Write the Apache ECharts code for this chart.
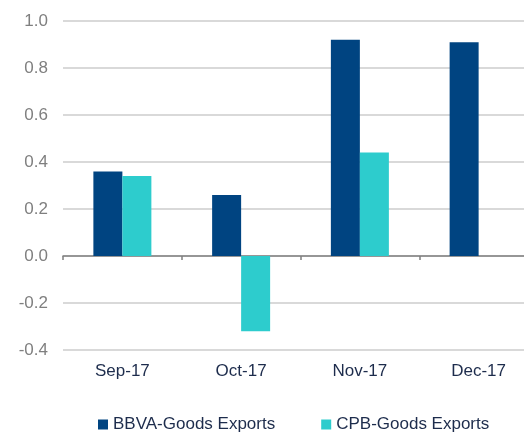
<!DOCTYPE html>
<html>
<head>
<meta charset="utf-8">
<script src="https://cdn.jsdelivr.net/npm/echarts@6/dist/echarts.min.js"></script>
<style>
  html, body { margin: 0; padding: 0; background: #fff; }
  #chart { width: 524px; height: 433px; }
</style>
</head>
<body>
<div id="chart"></div>
<script>
// categories and values
const months = ['Sep-17', 'Oct-17', 'Nov-17', 'Dec-17']
const bbvaExports = [0.36, 0.26, 0.92, 0.91]
const cpbExports = [0.34, -0.32, 0.44, null]

const chart = echarts.init(document.getElementById('chart'))

const option = {
  animation: false,
  textStyle: { fontFamily: 'Liberation Sans, Arial, sans-serif' },
  grid: {
    left: 63,
    top: 21,
    width: 475,
    height: 329,
    outerBoundsMode: 'none'
  },
  legend: {
    left: 93,
    top: 411,
    itemWidth: 10,
    itemHeight: 10,
    itemGap: 46,
    icon: 'rect',
    textStyle: { color: '#1d2c4c', fontSize: 17 },
    data: ['BBVA-Goods Exports', 'CPB-Goods Exports']
  },
  xAxis: [
    {
      // labels at the bottom
      type: 'category',
      data: months,
      axisLine: { show: false, onZero: false },
      axisTick: { show: false },
      axisLabel: { color: '#1d2c4c', fontSize: 17, margin: 13 }
    },
    {
      // zero line with ticks
      type: 'category',
      data: months,
      position: 'bottom',
      axisLine: { onZero: true, onZeroAxisIndex: 0, lineStyle: { color: '#808080', width: 1.5 } },
      axisTick: { show: true, length: 4, lineStyle: { color: '#808080', width: 1.5 } },
      axisLabel: { show: false }
    }
  ],
  yAxis: {
    type: 'value',
    min: -0.4,
    max: 1.0,
    interval: 0.2,
    axisLine: { show: false },
    axisTick: { show: false },
    axisLabel: {
      color: '#7f7f7f',
      fontSize: 17,
      margin: 15,
      formatter: function (v) { return v.toFixed(1) }
    },
    splitLine: { lineStyle: { color: '#d9d9d9', width: 2 } }
  },
  series: [
    {
      name: 'BBVA-Goods Exports',
      type: 'bar',
      xAxisIndex: 0,
      barWidth: 29,
      barGap: '0%',
      itemStyle: { color: '#004481' },
      data: bbvaExports
    },
    {
      name: 'CPB-Goods Exports',
      type: 'bar',
      xAxisIndex: 0,
      barWidth: 29,
      barGap: '0%',
      itemStyle: { color: '#2dcccd' },
      data: cpbExports
    }
  ]
}

chart.setOption(option)
</script>
</body>
</html>
